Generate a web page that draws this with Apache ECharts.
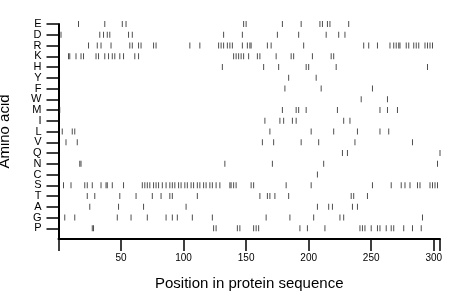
<!DOCTYPE html>
<html><head><meta charset="utf-8">
<script src="https://cdn.jsdelivr.net/npm/echarts@6/dist/echarts.min.js"></script>
<style>html,body{margin:0;padding:0;background:#fff}#c{width:460px;height:299px}</style>
</head><body><div id="c"></div>
<script>
var aminoAcids = ['E','D','R','K','H','Y','F','W','M','I','L','V','Q','N','C','S','T','A','G','P'];
var xTickLabels = ['50','100','150','200','250','300'];
var seqLength = 305;
var posE = [16,37,51,54,148,150,179,194,209,211,215,217,232];
var posD = [2,33,36,39,41,56,59,132,147,175,192,214,224,229];
var posR = [24,31,34,42,57,59,64,66,76,78,105,113,128,130,132,135,137,139,147,151,153,154,167,170,196,244,248,255,265,268,270,272,273,278,280,284,286,288,293,295,297,299];
var posK = [8,9,14,18,20,30,32,37,40,43,45,49,52,61,64,140,142,144,146,148,152,159,161,174,186,188,203,218,220];
var posH = [131,164,176,198,200,222,295];
var posY = [184,206];
var posF = [181,210,251];
var posW = [242,263];
var posM = [1,179,190,192,198,223,257,263,271];
var posI = [165,177,180,187,190,228,233];
var posL = [3,11,13,169,202,220,239,257,264];
var posV = [6,15,163,172,194,208,237,283];
var posQ = [227,231,305];
var posN = [17,18,133,171,212,303];
var posC = [207];
var posS = [4,10,21,23,27,34,38,39,43,52,67,69,71,73,76,78,80,83,86,89,91,93,96,98,101,103,106,108,111,113,116,118,121,123,126,129,137,138,140,142,154,156,182,202,251,266,274,277,281,287,289,297,299,301,303];
var posT = [23,29,49,62,75,82,89,91,111,161,167,169,173,184,234,236,247];
var posA = [25,48,68,102,207,216,219,235,239];
var posG = [5,13,47,58,71,86,91,95,107,123,166,185,204,225,228,291];
var posP = [27,28,124,126,143,145,156,158,160,193,199,213,241,243,245,250,255,257,262,266,268,276,283,290];

var positions = [posE,posD,posR,posK,posH,posY,posF,posW,posM,posI,posL,posV,posQ,posN,posC,posS,posT,posA,posG,posP];
var yCats = [''].concat(aminoAcids.slice().reverse());
var xCats = [];
for (var k = 0; k <= seqLength; k++) xCats.push(String(k));
var data = [];
positions.forEach(function(arr, i){
  var yi = aminoAcids.length - i;
  arr.forEach(function(p){ data.push([p, yi]); });
});
function isXTick(idx){ return xTickLabels.indexOf(String(idx)) >= 0; }

var chart = echarts.init(document.getElementById('c'), null, {renderer:'canvas'});
var font = 'Liberation Sans';
chart.setOption({
  animation:false,
  backgroundColor:'#fff',
  grid:{left:58.5, top:24, width:381.5, height:215, outerBoundsContain:'axisLabel'},
  xAxis:[{
    type:'category', data:xCats, boundaryGap:false, position:'bottom',
    name:'Position in protein sequence', nameLocation:'middle', nameGap:37,
    nameTextStyle:{fontFamily:font, fontSize:15, color:'#000'},
    axisLine:{show:true, onZero:false, lineStyle:{color:'#000', width:2}},
    axisTick:{show:true, inside:false, length:12, lineStyle:{color:'#000', width:1.5},
      interval:function(idx){ return isXTick(idx); }},
    axisLabel:{show:true, fontFamily:font, fontSize:10, color:'#000', margin:14,
      interval:function(idx){ return isXTick(idx); }},
    splitLine:{show:false}
  },{
    type:'value', min:0, max:seqLength, interval:50, position:'bottom', offset:0,
    axisLine:{show:false, onZero:false},
    axisTick:{show:true, inside:false, length:12, lineStyle:{color:'#000', width:1.5}},
    axisLabel:{show:false},
    splitLine:{show:false}
  }],
  yAxis:{
    type:'category', data:yCats, boundaryGap:false,
    name:'Amino acid', nameLocation:'middle', nameGap:46, nameRotate:90,
    nameTextStyle:{fontFamily:font, fontSize:15, color:'#000'},
    axisLine:{show:true, onZero:false, lineStyle:{color:'#000', width:2}},
    axisTick:{show:true, length:12, lineStyle:{color:'#000', width:1.5},
      interval:function(idx){ return idx !== 0; }},
    axisLabel:{fontFamily:font, fontSize:11, color:'#000', margin:17, interval:0},
    splitLine:{show:false}
  },
  series:[{
    type:'scatter', xAxisIndex:0, data:data, symbol:'rect', symbolSize:[1,6],
    itemStyle:{color:'#222'}, silent:true
  }]
});
</script></body></html>
